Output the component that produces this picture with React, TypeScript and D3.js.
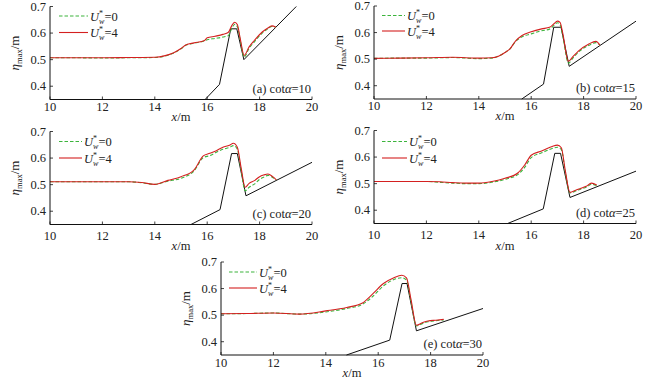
import React from "react";
import * as d3 from "d3";

// ---------- data ----------
const xTicks = [10, 12, 14, 16, 18, 20];
const yTicks = [0.4, 0.5, 0.6, 0.7];
const panelLabels = ["(a)", "(b)", "(c)", "(d)", "(e)"];
const cotValues = [10, 15, 20, 25, 30];
const legendValues = [0, 4];

const xA = [10, 11, 12, 13, 14, 14.4, 14.7, 15.0, 15.2, 15.5, 15.9, 16.0, 16.3, 16.6, 16.8, 16.95, 17.05, 17.15, 17.25, 17.41, 17.6, 17.8, 18.1, 18.3, 18.47, 18.62];
const u4A = [0.507, 0.507, 0.507, 0.508, 0.509, 0.515, 0.525, 0.542, 0.556, 0.563, 0.572, 0.582, 0.588, 0.595, 0.602, 0.63, 0.641, 0.632, 0.585, 0.516, 0.548, 0.572, 0.604, 0.618, 0.627, 0.622];
const u0A = [0.507, 0.507, 0.506, 0.507, 0.508, 0.514, 0.524, 0.541, 0.555, 0.562, 0.571, 0.575, 0.58, 0.585, 0.59, 0.62, 0.633, 0.624, 0.578, 0.51, 0.543, 0.567, 0.6, 0.615, 0.625, 0.622];
const bedXA = [15.92, 16.47, 16.9, 17.13, 17.4, 19.4];
const bedYA = [0.35, 0.407, 0.616, 0.616, 0.5, 0.7];

const xB = [10, 11, 12, 13, 14, 14.5, 14.75, 15.0, 15.2, 15.4, 15.65, 16.0, 16.4, 16.7, 16.87, 17.0, 17.1, 17.2, 17.42, 17.6, 17.8, 18.2, 18.47, 18.62];
const u4B = [0.503, 0.504, 0.505, 0.507, 0.504, 0.505, 0.511, 0.525, 0.54, 0.568, 0.589, 0.603, 0.614, 0.62, 0.633, 0.643, 0.638, 0.6, 0.492, 0.51, 0.53, 0.557, 0.567, 0.553];
const u0B = [0.503, 0.504, 0.504, 0.506, 0.502, 0.504, 0.511, 0.525, 0.54, 0.566, 0.584, 0.595, 0.607, 0.613, 0.627, 0.637, 0.63, 0.59, 0.485, 0.505, 0.526, 0.552, 0.562, 0.553];
const bedXB = [15.64, 16.47, 16.86, 17.14, 17.45, 20];
const bedYB = [0.35, 0.406, 0.62, 0.62, 0.473, 0.643];

const xC = [10, 11, 12, 13, 13.5, 14.0, 14.5, 15.0, 15.5, 15.85, 16.1, 16.35, 16.6, 16.85, 17.0, 17.15, 17.3, 17.45, 17.6, 17.8, 18.0, 18.15, 18.32, 18.5, 18.64];
const u4C = [0.511, 0.511, 0.511, 0.511, 0.508, 0.501, 0.516, 0.53, 0.556, 0.608, 0.618, 0.628, 0.641, 0.648, 0.656, 0.641, 0.56, 0.49, 0.505, 0.515, 0.53, 0.536, 0.54, 0.53, 0.518];
const u0C = [0.511, 0.511, 0.511, 0.511, 0.507, 0.501, 0.513, 0.524, 0.552, 0.602, 0.609, 0.622, 0.633, 0.64, 0.647, 0.633, 0.55, 0.477, 0.49, 0.502, 0.52, 0.528, 0.535, 0.527, 0.518];
const bedXC = [15.38, 16.49, 16.93, 17.15, 17.48, 20];
const bedYC = [0.35, 0.406, 0.617, 0.617, 0.458, 0.584];

const xD = [10, 11, 12, 12.5, 13, 13.5, 14, 14.5, 15, 15.5, 15.75, 16.0, 16.4, 16.8, 17.0, 17.15, 17.3, 17.48, 17.7, 17.9, 18.1, 18.3, 18.5];
const u4D = [0.508, 0.508, 0.508, 0.507, 0.504, 0.502, 0.502, 0.508, 0.52, 0.541, 0.57, 0.607, 0.623, 0.64, 0.645, 0.635, 0.55, 0.467, 0.475, 0.483, 0.49, 0.502, 0.495];
const u0D = [0.508, 0.508, 0.508, 0.505, 0.502, 0.5, 0.5, 0.505, 0.516, 0.535, 0.561, 0.598, 0.616, 0.632, 0.637, 0.628, 0.545, 0.465, 0.472, 0.48, 0.486, 0.498, 0.493];
const bedXD = [15.1, 16.46, 16.9, 17.12, 17.48, 20];
const bedYD = [0.35, 0.405, 0.614, 0.614, 0.448, 0.547];

const xE = [10, 11, 12, 13, 14, 14.8, 15.4, 15.8, 16.2, 16.6, 16.9, 17.08, 17.25, 17.46, 17.7, 17.9, 18.2, 18.5];
const u4E = [0.505, 0.506, 0.508, 0.504, 0.516, 0.529, 0.546, 0.581, 0.619, 0.641, 0.65, 0.64, 0.56, 0.462, 0.472, 0.478, 0.481, 0.484];
const u0E = [0.505, 0.506, 0.508, 0.504, 0.512, 0.525, 0.541, 0.571, 0.61, 0.634, 0.641, 0.632, 0.55, 0.459, 0.469, 0.475, 0.479, 0.482];
const bedXE = [14.79, 16.44, 16.91, 17.1, 17.46, 20];
const bedYE = [0.35, 0.406, 0.619, 0.619, 0.441, 0.525];

// ---------- layout ----------
const W = 650;
const H = 378;
const PW = 262;
const PH = 93;
const GREEN = "#3cb43c";
const RED = "#d42020";
const FONT = "'Liberation Serif', 'DejaVu Serif', serif";

type PanelSpec = {
  left: number; top: number; tickOff: number; xlabOff: number;
  legX1: number; legX2: number; legY1: number; legY2: number;
  xs: number[]; u0: number[]; u4: number[]; bx: number[]; by: number[];
};

const panels: PanelSpec[] = [
  { left: 50, top: 6.5, tickOff: 11, xlabOff: 21, legX1: 59, legX2: 88, legY1: 16, legY2: 32.5, xs: xA, u0: u0A, u4: u4A, bx: bedXA, by: bedYA },
  { left: 374, top: 6, tickOff: 11, xlabOff: 21, legX1: 382, legX2: 405, legY1: 15.5, legY2: 31, xs: xB, u0: u0B, u4: u4B, bx: bedXB, by: bedYB },
  { left: 50, top: 131.5, tickOff: 15.5, xlabOff: 25.5, legX1: 59, legX2: 82, legY1: 141.5, legY2: 158, xs: xC, u0: u0C, u4: u4C, bx: bedXC, by: bedYC },
  { left: 374, top: 130.5, tickOff: 15, xlabOff: 26, legX1: 382, legX2: 407, legY1: 141.5, legY2: 158, xs: xD, u0: u0D, u4: u4D, bx: bedXD, by: bedYD },
  { left: 221, top: 262, tickOff: 12, xlabOff: 21.5, legX1: 229, legX2: 257, legY1: 272, legY2: 288, xs: xE, u0: u0E, u4: u4E, bx: bedXE, by: bedYE },
];

function LegendText({ x, y, v }: { x: number; y: number; v: number }) {
  return (
    <text x={x} y={y + 4.5} fontFamily={FONT} fontSize={12.5} fill="#222">
      <tspan fontStyle="italic">U</tspan>
      <tspan fontSize={8} dy={-5} dx={0}>*</tspan>
      <tspan fontSize={8} fontStyle="italic" dx={-4} dy={8}>w</tspan>
      <tspan dy={-3}>={v}</tspan>
    </text>
  );
}

function Panel({ p, i }: { p: PanelSpec; i: number }) {
  const x = d3.scaleLinear().domain([10, 20]).range([p.left, p.left + PW]);
  const y = d3.scaleLinear().domain([0.35, 0.7]).range([p.top + PH, p.top]);
  const line = d3
    .line<number>()
    .x((_, k) => x(p.xs[k]))
    .y((d) => y(d))
    .curve(d3.curveMonotoneX);
  const bed = d3
    .line<number>()
    .x((_, k) => x(p.bx[k]))
    .y((d) => y(d));
  const bottom = p.top + PH;
  return (
    <g>
      {/* bed profile */}
      <path d={bed(p.by) || ""} fill="none" stroke="#111" strokeWidth={1} />
      {/* series */}
      <path d={line(p.u0) || ""} fill="none" stroke={GREEN} strokeWidth={1.1} strokeDasharray="3.5,2" />
      <path d={line(p.u4) || ""} fill="none" stroke={RED} strokeWidth={1.1} />
      {/* axes */}
      <line x1={p.left} y1={p.top} x2={p.left} y2={bottom} stroke="#111" strokeWidth={1} />
      <line x1={p.left} y1={bottom} x2={p.left + PW} y2={bottom} stroke="#111" strokeWidth={1} />
      {xTicks.map((t) => (
        <g key={"xt" + t}>
          <line x1={x(t)} x2={x(t)} y1={bottom} y2={bottom - 3} stroke="#111" strokeWidth={0.8} />
          <text x={x(t)} y={bottom + p.tickOff} textAnchor="middle" fontFamily={FONT} fontSize={12.5} fill="#222">
            {t}
          </text>
        </g>
      ))}
      {yTicks.map((t) => (
        <g key={"yt" + t}>
          <line x1={p.left} x2={p.left + 3} y1={y(t)} y2={y(t)} stroke="#111" strokeWidth={0.8} />
          <text x={p.left - 4} y={y(t) + 4} textAnchor="end" fontFamily={FONT} fontSize={12.5} fill="#222">
            {t.toFixed(1)}
          </text>
        </g>
      ))}
      {/* axis labels */}
      <text x={x(15)} y={bottom + p.xlabOff} textAnchor="middle" fontFamily={FONT} fontSize={12.5} fill="#222">
        <tspan fontStyle="italic">x</tspan>/m
      </text>
      <text
        transform={`translate(${p.left - 31},${p.top + PH / 2}) rotate(-90)`}
        textAnchor="middle"
        fontFamily={FONT}
        fontSize={13}
        fill="#222"
      >
        <tspan fontStyle="italic">η</tspan>
        <tspan fontSize={8.5} dy={3}>max</tspan>
        <tspan dy={-3}>/m</tspan>
      </text>
      {/* panel label */}
      <text x={p.left + PW - 1} y={bottom - 7} textAnchor="end" fontFamily={FONT} fontSize={12.5} fill="#222">
        {panelLabels[i]} cot<tspan fontStyle="italic">α</tspan>={cotValues[i]}
      </text>
      {/* legend */}
      <line x1={p.legX1} x2={p.legX2} y1={p.legY1} y2={p.legY1} stroke={GREEN} strokeWidth={1.1} strokeDasharray="3.5,2" />
      <line x1={p.legX1} x2={p.legX2} y1={p.legY2} y2={p.legY2} stroke={RED} strokeWidth={1.1} />
      <LegendText x={p.legX2 + 2} y={p.legY1} v={legendValues[0]} />
      <LegendText x={p.legX2 + 2} y={p.legY2} v={legendValues[1]} />
    </g>
  );
}

export default function App() {
  return (
    <svg
      width={W}
      height={H}
      viewBox={`0 0 ${W} ${H}`}
      style={{ position: "absolute", left: 0, top: 0, background: "#fff" }}
    >
      <rect width={W} height={H} fill="#fff" />
      {panels.map((p, i) => (
        <Panel key={i} p={p} i={i} />
      ))}
    </svg>
  );
}
